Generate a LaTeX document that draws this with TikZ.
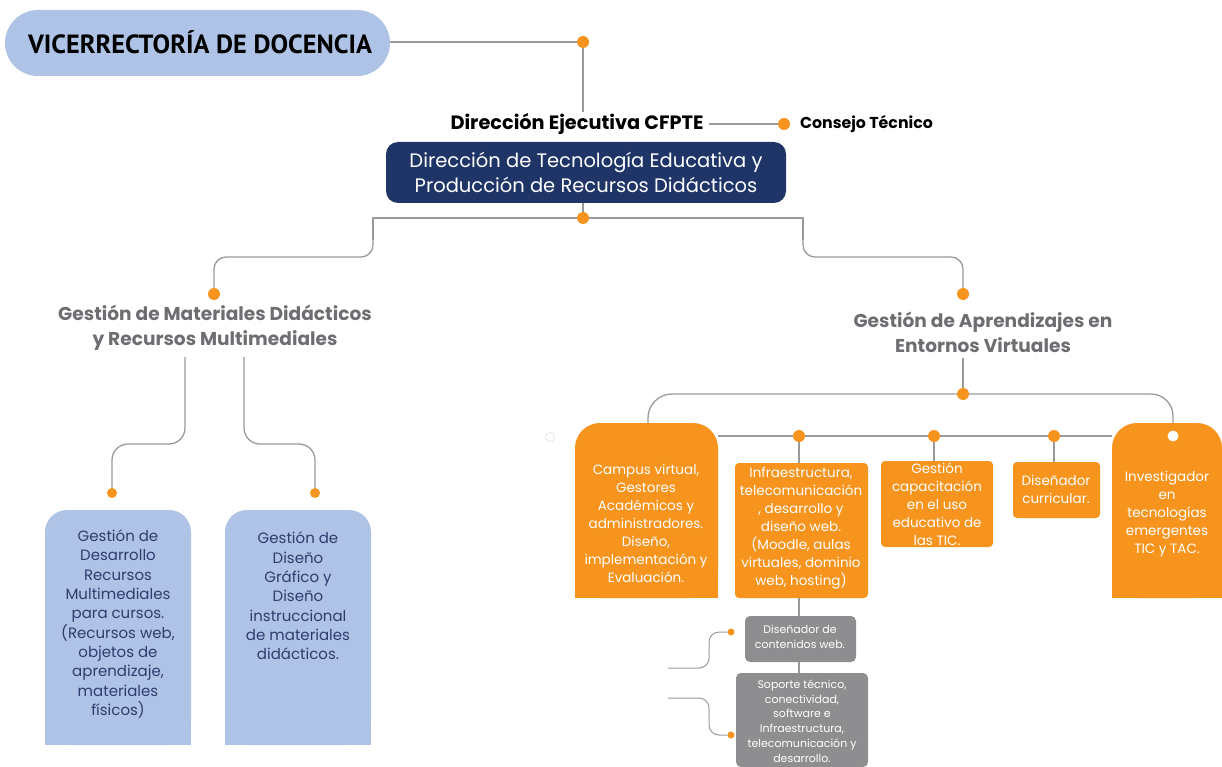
\documentclass[tikz,border=0pt]{standalone}
\usepackage{fontspec}
\setmainfont{Poppins}
\newfontfamily\titlefont{PT Sans}
\usetikzlibrary{backgrounds}
\definecolor{lblue}{HTML}{AEC3E5}
\definecolor{navy}{HTML}{1F3568}
\definecolor{orng}{HTML}{F7941D}
\definecolor{gtext}{HTML}{6D6E71}
\definecolor{gbox}{HTML}{8E8E90}
\definecolor{lnc}{HTML}{9A9A9A}
\definecolor{bltext}{HTML}{2E3D6E}
\begin{document}
\begin{tikzpicture}[x=1pt,y=-1pt,
  conn/.style={draw=lnc, line width=1.3pt},
  dot/.style={circle, fill=orng, inner sep=0pt, minimum size=12pt},
  sdot/.style={circle, fill=orng, inner sep=0pt, minimum size=10pt},
  tdot/.style={circle, fill=orng, inner sep=0pt, minimum size=7pt},
  frm/.style={inner sep=0pt, outer sep=0pt},
  txt/.style={inner sep=0pt, outer sep=0pt, align=center},
  otext/.style={txt, text=white, font=\fontsize{13.5}{18}\selectfont},
  btext/.style={txt, text=bltext, font=\fontsize{15}{19.3}\selectfont},
  gtxt/.style={txt, text=white, font=\fontsize{11}{14.8}\selectfont},
  head/.style={txt, text=gtext, font=\bfseries\fontsize{18.6}{25}\selectfont}
]
\useasboundingbox (0,0) rectangle (1222,767);

% ---------- frames ----------
\node[frm, minimum width=385pt, minimum height=66pt] (vice) at (197.5,43) {};
\node[frm, minimum width=400pt, minimum height=61pt] (dtec) at (586,172.5) {};
\node[frm, minimum width=146pt, minimum height=235pt] (lb1) at (118,627.5) {};
\node[frm, minimum width=146pt, minimum height=235pt] (lb2) at (298,627.5) {};
\node[frm, minimum width=143pt, minimum height=175pt] (campus) at (646.5,510.5) {};
\node[frm, minimum width=133pt, minimum height=135pt] (infra) at (801.5,530.5) {};
\node[frm, minimum width=112pt, minimum height=86pt] (capac) at (937,504) {};
\node[frm, minimum width=87pt, minimum height=56pt] (disen) at (1056.5,490) {};
\node[frm, minimum width=110pt, minimum height=175pt] (invest) at (1167,510.5) {};
\node[frm, minimum width=111pt, minimum height=46pt] (gray1) at (800.5,639) {};
\node[frm, minimum width=132pt, minimum height=94pt] (gray2) at (802,720) {};

\begin{scope}[on background layer]
  \fill[lblue, rounded corners=33pt] (vice.north west) rectangle (vice.south east);
  \fill[navy, rounded corners=12pt] (dtec.north west) rectangle (dtec.south east);
  \foreach \b in {lb1,lb2}{
    \fill[lblue, rounded corners=22pt] (\b.north west) rectangle (\b.south east);
    \fill[lblue] (\b.west) rectangle (\b.south east);}
  \foreach \b in {campus,invest}{
    \fill[orng, rounded corners=25pt] (\b.north west) rectangle (\b.south east);
    \fill[orng] (\b.west) rectangle (\b.south east);}
  \foreach \b in {infra,capac,disen}{
    \fill[orng, rounded corners=4pt] (\b.north west) rectangle (\b.south east);}
  \foreach \b in {gray1,gray2}{
    \fill[gbox, rounded corners=5pt] (\b.north west) rectangle (\b.south east);}
\end{scope}

% ---------- texts ----------
\node[txt, font=\titlefont\bfseries\fontsize{26.3}{30}\selectfont] (vice-t) at (200,42) {VICERRECTORÍA DE DOCENCIA};
\node[txt, font=\bfseries\fontsize{19.3}{22}\selectfont] (dirEj) at (577,124) {Dirección Ejecutiva CFPTE};
\node[txt, anchor=west, font=\bfseries\fontsize{15.8}{18}\selectfont] (consejo) at (800,124) {Consejo Técnico};
\node[txt, text=white, font=\fontsize{19.5}{25}\selectfont] (dtec-t) at (586,172) {Dirección de Tecnología Educativa y\\Producción de Recursos Didácticos};
\node[head] (gm) at (215,327.5) {Gestión de Materiales Didácticos\\y Recursos Multimediales};
\node[head] (ga) at (983,332.5) {Gestión de Aprendizajes en\\Entornos Virtuales};
\node[btext] (lb1-t) at (118,624) {Gestión de\\Desarrollo\\Recursos\\Multimediales\\para cursos.\\(Recursos web,\\objetos de\\aprendizaje,\\materiales\\físicos)};
\node[btext] (lb2-t) at (298,596) {Gestión de\\Diseño\\Gráfico y\\Diseño\\instruccional\\de materiales\\didácticos.};
\node[otext] (campus-t) at (646,523) {Campus virtual,\\Gestores\\Académicos y\\administradores.\\Diseño,\\implementación y\\Evaluación.};
\node[otext] (infra-t) at (801,528) {Infraestructura,\\telecomunicación\\, desarrollo y\\diseño web.\\(Moodle, aulas\\virtuales, dominio\\web, hosting)};
\node[otext] (capac-t) at (937,504) {Gestión\\capacitación\\en el uso\\educativo de\\las TIC.};
\node[otext] (disen-t) at (1056,489) {Diseñador\\curricular.};
\node[otext] (invest-t) at (1167,514) {Investigador\\en\\tecnologías\\emergentes\\TIC y TAC.};
\node[gtxt] (gray1-t) at (800,637) {Diseñador de\\contenidos web.};
\node[gtxt] (gray2-t) at (802,721) {Soporte técnico,\\conectividad,\\software e\\Infraestructura,\\telecomunicación y\\desarrollo.};

% ---------- dots and coordinates ----------
\node[dot] (d1) at (583,42) {};
\node[dot] (d2) at (784,124) {};
\node[dot] (d3) at (583,218) {};
\node[dot] (d4) at (214,294) {};
\node[dot] (d5) at (963,294) {};
\node[sdot] (d6) at (112,493) {};
\node[sdot] (d7) at (315,493) {};
\node[dot] (d8) at (963,394) {};
\node[dot] (d9) at (799,436) {};
\node[dot] (d10) at (934,436) {};
\node[dot] (d11) at (1054,436) {};
\node[circle, fill=white, inner sep=0pt, minimum size=11pt] (wdot) at (1173,436) {};
\node[tdot] (t1) at (731,632) {};
\node[tdot] (t2) at (731,735) {};
\node[circle, draw=gray!25, line width=0.6pt, inner sep=0pt, minimum size=9pt] (faint) at (550,437) {};
\coordinate (dirEjTop) at (583,112);
\coordinate (gmL) at (185,357);
\coordinate (gmR) at (244,357);
\coordinate (gaB) at (963,358);
\coordinate (fL1) at (668,668);
\coordinate (fL2) at (668,698);

% ---------- connectors ----------
\begin{scope}[on background layer]
\draw[conn] (vice.east |- d1) -- (d1) -- (dirEjTop);
\draw[conn] (dirEj.east) ++(6,0) -- (d2);
\draw[conn] (dtec.south -| d3) -- (d3);
\draw[conn] (d3) -- (373,218) -- (373,240);
\draw[conn, rounded corners=12pt] (373,236) -- (373,257) -- (214,257) -- (d4);
\draw[conn] (d3) -- (803,218) -- (803,240);
\draw[conn, rounded corners=12pt] (803,236) -- (803,257) -- (963,257) -- (d5);
\draw[conn, rounded corners=16pt] (gmL) -- (185,444) -- (112,444) -- (d6);
\draw[conn, rounded corners=16pt] (gmR) -- (244,444) -- (315,444) -- (d7);
\draw[conn] (gaB) -- (d8);
\draw[conn, rounded corners=24pt] (d8) -- (648,394) -- (648,423);
\draw[conn, rounded corners=22pt] (d8) -- (1173,394) -- (1173,423);
\draw[conn] (campus.east |- d9) -- (invest.west |- d9);
\draw[conn] (d9) -- (infra.north -| d9);
\draw[conn] (d10) -- (capac.north -| d10);
\draw[conn] (d11) -- (disen.north -| d11);
\draw[conn] (infra.south -| 799,0) -- (gray1.north -| 799,0);
\draw[conn] (gray1.south -| 799,0) -- (gray2.north -| 799,0);
\draw[conn, line width=1pt, rounded corners=10pt] (fL1) -- (709,668) -- (709,632) -- (t1);
\draw[conn, line width=1pt, rounded corners=10pt] (fL2) -- (709,698) -- (709,735) -- (t2);
\end{scope}
\end{tikzpicture}
\end{document}
